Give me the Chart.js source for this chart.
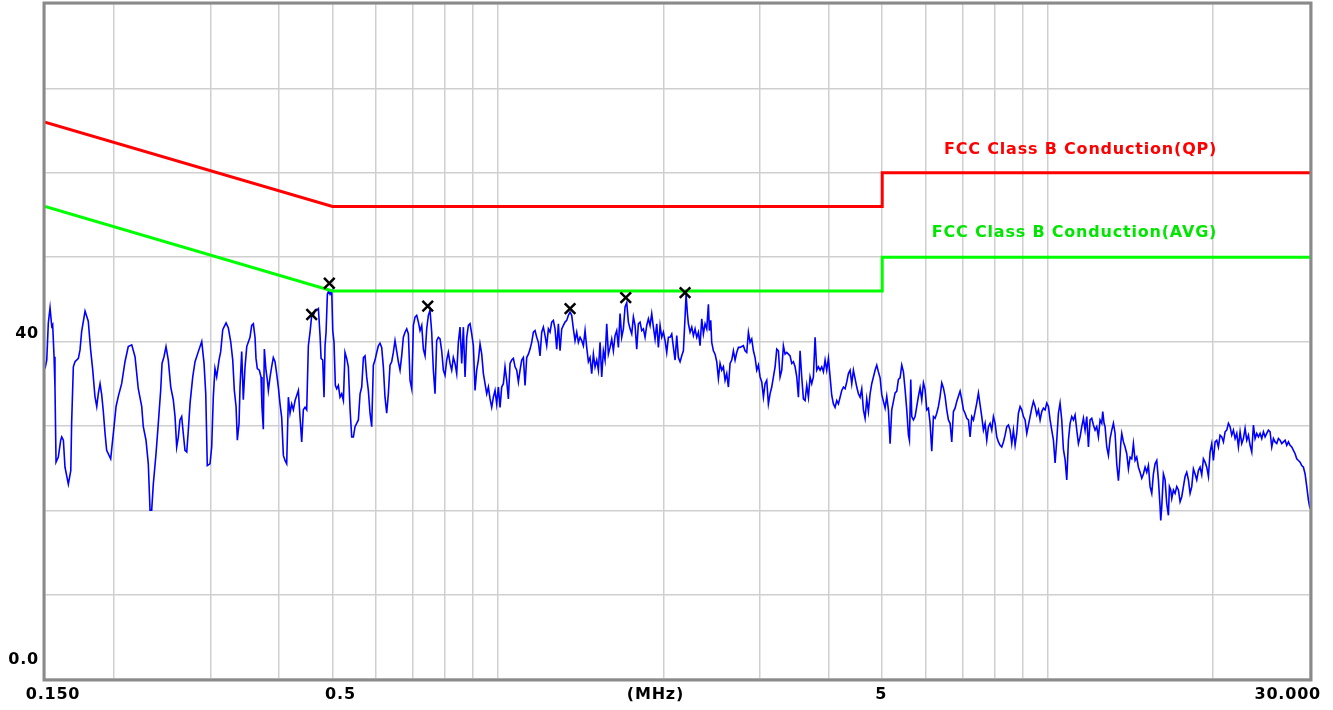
<!DOCTYPE html>
<html>
<head>
<meta charset="utf-8">
<script src="https://cdn.jsdelivr.net/npm/chart.js@4"></script>
<style>
html,body{margin:0;padding:0;background:#ffffff;}
#wrap{position:absolute;left:0;top:0;width:1333px;height:710px;}
</style>
</head>
<body>
<div id="wrap"><canvas id="c" width="1333" height="710"></canvas></div>
<script>
// ---------- data ----------
const xGridMHz = [0.15,0.2,0.3,0.4,0.5,0.6,0.7,0.8,0.9,1,2,3,4,5,6,7,8,9,10,20,30];
const yGridDb = [0,10,20,30,40,50,60,70,80];
const xTickValues = [0.15, 0.5, 2, 5, 30];
const xTickLabels = ['0.150', '0.5', '(MHz)', '5', '30.000'];
const yTickValues = [0, 40];
const yTickLabels = ['0.0', '40'];

const qpLimitFreq = [0.15, 0.5, 5, 5, 30];
const qpLimitDb   = [66, 56, 56, 60, 60];
const avgLimitFreq = [0.15, 0.5, 5, 5, 30];
const avgLimitDb   = [56, 46, 46, 50, 50];
const qpLimitName  = 'FCC Class B Conduction(QP)';
const avgLimitName = 'FCC Class B Conduction(AVG)';

const peakFreq = [0.4584, 0.4935, 0.7452, 1.3526, 1.7080, 2.1896];
const peakDb   = [43.2, 46.9, 44.2, 43.9, 45.2, 45.8];

const traceFreq = [
0.1500,0.1511,0.1521,0.1532,0.1543,0.1549,0.1558,0.1564,0.1571,0.1586,
0.1602,0.1609,0.1620,0.1631,0.1654,0.1671,0.1677,0.1689,0.1701,0.1725,
0.1737,0.1749,0.1774,0.1798,0.1816,0.1832,0.1849,0.1863,0.1875,0.1889,
0.1902,0.1915,0.1929,0.1942,0.1975,0.1997,0.2020,0.2039,0.2068,0.2097,
0.2126,0.2157,0.2187,0.2217,0.2249,0.2264,0.2290,0.2312,0.2329,0.2345,
0.2361,0.2388,0.2411,0.2435,0.2449,0.2469,0.2490,0.2514,0.2540,0.2567,
0.2586,0.2604,0.2622,0.2640,0.2659,0.2677,0.2696,0.2716,0.2734,0.2754,
0.2785,0.2812,0.2851,0.2892,0.2920,0.2941,0.2960,0.2994,0.3015,0.3036,
0.3057,0.3079,0.3109,0.3131,0.3158,0.3202,0.3233,0.3265,0.3293,0.3315,
0.3339,0.3357,0.3381,0.3395,0.3419,0.3442,0.3467,0.3492,
0.3540,0.3565,0.3590,0.3615,0.3630,0.3650,0.3681,0.3707,0.3722,0.3743,
0.3759,0.3785,0.3807,0.3823,0.3850,0.3876,0.3903,0.3931,0.3958,0.3986,
0.4014,0.4042,0.4071,0.4099,0.4128,0.4157,0.4186,0.4215,0.4245,0.4275,
0.4305,0.4335,0.4365,0.4396,0.4426,0.4458,0.4489,0.4520,0.4552,0.4584,
0.4616,0.4649,0.4681,0.4714,0.4747,0.4767,0.4800,0.4827,0.4847,0.4868,
0.4895,0.4922,0.4950,0.4985,0.5006,0.5033,0.5061,0.5090,0.5125,0.5161,
0.5197,0.5234,0.5270,0.5307,0.5344,0.5382,0.5420,0.5458,0.5496,0.5534,
0.5573,0.5613,0.5652,0.5692,0.5731,0.5771,0.5811,0.5852,0.5893,0.5934,
0.5976,0.6018,0.6060,0.6102,0.6145,0.6188,0.6231,0.6275,0.6319,0.6363,
0.6408,0.6452,0.6498,0.6543,0.6589,0.6636,0.6682,0.6729,0.6776,0.6824,
0.6872,0.6920,0.6969,0.7017,0.7066,0.7116,0.7166,0.7216,0.7267,0.7317,
0.7369,0.7420,0.7472,0.7524,0.7577,0.7630,0.7683,0.7737,0.7791,0.7846,
0.7901,0.7956,0.8012,0.8068,0.8124,0.8182,0.8239,0.8296,0.8354,0.8413,
0.8472,
0.8532,0.8592,0.8652,0.8713,0.8774,0.8835,0.8897,0.8959,0.9022,0.9085,
0.9149,0.9213,0.9278,0.9343,0.9408,0.9474,0.9540,0.9607,0.9674,0.9742,
0.9810,0.9879,0.9948,1.0018,1.0088,1.0158,1.0229,1.0301,1.0373,1.0446,
1.0520,1.0594,1.0668,1.0743,1.0818,1.0894,1.0970,1.1047,1.1124,1.1202,
1.1281,1.1360,1.1439,1.1519,1.1600,1.1681,1.1763,1.1845,1.1928,1.2012,
1.2096,1.2181,1.2266,1.2352,1.2438,1.2525,1.2613,1.2701,1.2790,1.2880,
1.2971,1.3062,1.3153,1.3245,1.3338,1.3431,1.3525,1.3620,1.3715,1.3811,
1.3909,1.4006,1.4104,1.4203,1.4302,1.4403,1.4503,1.4605,1.4707,1.4810,
1.4915,1.5019,1.5124,1.5230,1.5337,1.5444,1.5552,1.5661,1.5771,1.5881,
1.5993,1.6105,1.6217,1.6331,1.6445,1.6561,1.6677,1.6793,1.6911,1.7030,
1.7150,1.7270,1.7391,1.7512,1.7635,1.7758,1.7883,1.8008,1.8134,1.8261,
1.8390,1.8518,1.8648,1.8779,1.8910,1.9043,1.9176,1.9310,1.9446,1.9582,
1.9720,1.9858,1.9997,2.0137,2.0278,2.0420,
2.0563,2.0707,2.0853,2.0999,2.1147,2.1293,2.1443,2.1593,2.1743,2.1896,
2.1988,2.2112,2.2204,2.2361,2.2518,2.2674,2.2833,2.2994,2.3155,2.3316,
2.3479,2.3644,2.3810,2.3977,2.4144,2.4246,2.4382,2.4483,2.4655,2.4828,
2.5002,2.5177,2.5354,2.5532,2.5711,2.5891,2.6071,2.6254,2.6439,2.6624,
2.6810,2.6998,2.7187,2.7377,2.7570,2.7763,2.7956,2.8152,2.8350,2.8549,
2.8748,2.8949,2.9153,2.9357,2.9563,2.9771,2.9978,3.0188,3.0402,3.0614,
3.0826,3.1042,3.1261,3.1480,3.1702,3.1924,3.2148,3.2371,3.2599,3.2827,
3.3055,3.3287,3.3521,3.3756,3.3993,3.4232,3.4470,3.4711,3.4957,3.5201,
3.5445,3.5693,3.5945,3.6197,3.6451,3.6707,3.6963,3.7221,3.7482,3.7746,
3.8009,3.8275,3.8544,3.8814,3.9088,3.9361,3.9634,3.9913,4.0194,4.0475,
4.0756,4.1041,4.1331,4.1621,4.1913,4.2206,4.2501,4.2798,4.3100,4.3402,
4.3704,4.4011,4.4320,4.4630,4.4944,4.5259,4.5575,4.5894,4.6217,4.6540,
4.6864,4.7191,4.7524,4.7857,4.8194,4.8531,4.8869,4.9210,
4.9558,4.9906,5.0255,5.0608,5.0962,5.1319,5.1679,5.2040,5.2405,5.2772,
5.3141,5.3514,5.3891,5.4267,5.4647,5.5029,5.5415,5.5805,5.6036,5.6350,
5.6590,5.6984,5.7383,5.7786,5.8189,5.8595,5.9008,5.9425,5.9841,6.0256,
6.0677,6.1104,6.1532,6.1966,6.2400,6.2837,6.3274,6.3722,6.4166,6.4615,
6.5064,6.5522,6.5981,6.6443,6.6910,6.7377,6.7849,6.8324,6.8804,6.9282,
6.9769,7.0260,7.0752,7.1245,7.1743,7.2249,7.2753,7.3266,7.3779,7.4294,
7.4815,7.5340,7.5868,7.6400,7.6934,7.7473,7.8017,7.8564,7.9112,7.9666,
8.0226,8.0787,8.1353,8.1925,8.2498,8.3075,8.3657,8.4246,8.4835,8.5424,
8.6023,8.6628,8.7235,8.7847,8.8462,8.9081,8.9707,9.0340,9.0971,9.1605,
9.2245,9.2892,9.3543,9.4199,9.4858,9.5524,9.6192,9.6868,9.7546,9.8230,
9.8915,9.9608,10.030,10.101,10.171,10.243,10.314,10.387,10.459,10.532,
10.606,10.681,10.756,10.831,10.907,10.983,11.060,11.137,11.215,11.294,
11.373,11.453,11.533,11.614,11.695,11.777,11.860,
11.942,12.026,12.110,12.195,12.280,12.366,12.453,12.541,12.593,12.663,
12.716,12.806,12.896,12.986,13.078,13.169,13.261,13.354,13.447,13.504,
13.580,13.637,13.732,13.828,13.925,14.023,14.121,14.220,14.319,14.420,
14.520,14.622,14.725,14.828,14.931,15.036,15.141,15.247,15.354,15.462,
15.570,15.679,15.789,15.900,16.011,16.056,16.123,16.236,16.349,16.463,
16.579,16.650,16.743,16.813,16.931,17.049,17.169,17.289,17.410,17.532,
17.654,17.778,17.903,18.028,18.155,18.282,18.410,18.539,18.669,18.799,
18.930,19.063,19.197,19.331,19.468,19.604,19.740,19.879,20.018,20.158,
20.299,20.441,20.585,20.729,20.876,21.022,21.169,21.317,21.467,21.617,
21.768,21.921,22.074,22.229,22.385,22.542,22.699,22.858,23.019,23.180,
23.342,23.505,23.670,23.836,24.004,24.172,24.341,24.511,24.683,24.856,
25.030,25.205,25.382,25.560,25.739,25.919,26.101,26.283,26.467,26.653,
26.840,27.028,27.217,27.408,27.600,27.793,27.988,28.184,28.381,28.580,
28.780,28.982,29.185,29.390,29.596,29.803,30.000
];

const traceDb = [
36.8,37.8,42.2,44.0,41.8,42.0,38.2,34.6,25.7,26.3,
28.3,28.7,28.3,25.1,23.1,24.7,30.3,37.0,37.6,38.0,
39.0,41.2,43.6,42.4,39.0,36.6,33.5,32.3,33.8,35.0,
33.7,31.7,29.1,27.1,26.1,29.1,32.3,33.5,35.0,37.6,
39.4,39.6,38.2,34.4,32.3,29.9,28.3,25.5,20.0,20.0,
23.1,26.7,30.3,34.2,37.4,38.2,39.4,37.8,34.6,33.1,
31.1,27.5,28.7,30.7,31.1,29.1,27.1,26.9,29.5,32.7,
35.8,37.6,38.8,40.0,37.4,33.8,25.3,25.5,27.5,33.5,
36.8,35.8,37.8,38.8,41.4,42.2,41.6,40.0,37.8,34.2,
32.3,28.3,30.3,34.6,38.8,33.1,37.0,39.4,
40.5,41.9,42.1,40.5,38.0,36.8,36.6,35.8,32.2,29.6,
39.1,36.6,35.4,34.2,35.8,37.0,38.1,37.6,36.2,34.6,
32.6,31.0,26.5,25.9,25.5,33.4,31.5,32.6,31.9,33.0,
33.6,34.2,31.0,28.1,31.9,32.2,31.9,39.5,41.1,43.1,
43.1,43.7,43.7,43.9,40.7,38.0,37.8,33.4,39.5,41.1,
45.6,46.0,45.6,46.0,41.3,39.9,34.8,34.4,34.8,33.4,
33.8,33.0,38.7,38.0,37.0,32.0,28.7,28.7,29.9,30.3,
30.7,33.8,34.6,38.1,38.3,35.8,34.2,31.5,29.9,37.2,
37.8,38.7,39.5,39.8,39.3,37.0,33.4,31.5,33.8,37.2,
37.6,38.7,40.1,38.9,37.6,36.6,38.3,40.5,41.1,41.5,
40.9,35.4,34.4,41.9,42.9,43.1,42.3,41.3,41.9,39.1,
38.3,41.5,43.1,43.7,41.1,36.6,33.8,40.1,40.5,40.3,
38.9,36.6,36.0,37.8,38.7,37.4,36.6,38.1,37.4,36.2,
39.9,
41.7,37.4,41.7,35.8,40.5,41.9,42.1,40.9,39.5,34.2,
36.6,37.8,39.7,38.5,36.2,35.0,33.8,34.6,33.2,32.2,
33.4,34.2,32.6,34.6,32.2,34.6,35.0,37.0,35.4,33.2,
37.4,37.8,38.0,37.0,36.6,35.2,36.6,37.8,38.1,34.8,
38.1,38.5,39.1,39.9,41.1,41.3,40.5,39.9,38.3,41.1,
41.7,40.7,39.5,41.5,41.1,42.3,42.5,41.5,39.1,42.1,
38.9,41.5,41.9,42.3,42.5,43.1,43.5,43.1,41.5,40.1,
41.1,39.9,40.5,40.1,39.5,41.3,39.3,37.6,38.1,36.2,
38.5,37.0,37.8,36.6,39.9,35.8,38.9,37.8,42.1,38.5,
39.3,40.3,38.9,40.7,41.3,39.3,43.3,40.5,41.5,44.1,
44.6,42.3,41.5,40.9,42.9,41.9,39.1,42.1,42.3,41.3,
41.5,40.5,41.9,42.7,41.9,43.3,41.7,40.3,42.1,39.3,
41.9,40.5,41.1,40.1,38.7,40.5,
40.5,40.9,39.3,37.8,40.7,38.1,37.6,38.3,38.9,42.9,
45.6,43.3,42.1,41.1,41.7,40.7,41.5,40.5,41.1,39.5,
42.7,40.9,42.1,41.5,44.4,41.3,42.5,39.9,38.9,38.5,
37.6,35.6,37.4,36.6,37.0,35.4,36.2,34.6,37.4,37.8,
38.9,37.8,38.7,39.3,39.3,39.4,39.5,38.9,38.7,41.1,
39.9,40.3,38.9,38.1,36.6,37.2,35.8,35.2,33.4,35.0,
35.4,32.6,33.8,34.6,35.8,37.0,39.1,38.9,35.8,36.6,
39.5,38.5,38.7,38.5,38.3,37.4,37.6,37.0,35.8,33.4,
38.9,35.8,33.2,33.0,34.8,33.4,35.8,35.0,35.8,40.5,
36.6,37.0,36.6,37.0,36.4,37.8,36.6,38.0,35.8,33.6,
32.6,32.2,33.0,32.6,33.4,34.2,34.6,34.4,35.2,36.2,
36.6,35.0,36.6,35.6,34.6,33.8,33.4,34.4,31.9,30.9,
33.2,31.7,33.8,35.0,35.8,36.6,37.2,36.4,
35.7,33.7,32.9,32.1,33.5,31.9,27.9,31.9,32.9,33.9,
34.1,35.5,35.7,37.2,36.4,34.3,31.9,28.9,28.3,35.5,
31.1,30.7,31.1,32.3,33.5,34.5,33.1,35.1,34.3,31.9,
32.1,30.3,27.0,31.1,30.9,31.5,32.3,33.5,35.1,34.5,
33.5,31.9,30.7,30.3,28.1,31.7,32.1,32.9,33.5,34.1,
33.1,31.9,31.5,30.9,30.7,28.7,31.1,30.7,31.7,32.7,
33.9,32.5,31.1,29.5,30.3,28.3,29.9,30.3,29.5,31.1,
30.3,28.7,28.1,27.7,27.5,28.1,28.9,29.9,30.1,29.5,
27.9,29.5,27.7,29.1,31.5,32.3,31.9,31.1,30.7,29.1,
30.1,31.1,32.1,32.9,32.3,31.3,31.9,30.7,31.7,32.1,
31.9,32.7,32.3,30.7,29.5,28.3,25.6,28.3,31.5,32.7,
30.7,27.2,26.0,23.6,28.3,30.3,31.1,30.7,31.3,29.5,
27.9,28.7,29.9,30.9,29.5,31.1,27.5,
30.7,30.9,30.1,29.5,29.9,28.7,30.7,30.3,31.7,30.3,
29.9,27.5,26.5,28.5,29.5,30.3,29.1,25.5,23.5,25.1,
27.9,29.1,28.1,27.5,26.7,24.9,26.3,26.1,27.9,25.9,
26.3,25.1,24.5,23.8,24.3,25.1,24.5,25.3,22.8,22.0,
24.3,25.5,25.9,23.6,20.4,18.8,20.4,24.3,23.6,20.8,
19.4,22.8,22.4,21.4,22.4,22.0,22.8,22.4,21.0,21.6,
22.8,24.0,24.5,23.6,22.0,22.8,24.9,24.3,23.6,24.7,
25.1,24.2,26.1,25.7,25.1,24.0,26.9,27.9,25.9,28.1,
28.3,27.5,28.9,28.7,28.1,29.3,29.5,30.3,29.9,28.9,
29.5,28.5,29.1,27.5,29.3,27.9,28.5,29.7,28.3,28.9,
27.7,26.9,30.1,28.5,29.1,28.7,29.1,28.5,29.3,28.7,
29.1,29.5,29.3,27.5,28.5,28.1,27.9,28.5,28.3,27.9,
28.1,28.3,27.7,28.1,27.7,27.5,27.1,26.7,26.1,25.9,
25.7,25.3,25.1,24.3,22.8,21.2,20.2
];

// ---------- chart ----------
const pts = (fx, fy) => fx.slice(0, Math.min(fx.length, fy.length)).map((f, i) => ({x: f, y: fy[i]}));
const FONT = 'bold 16px "DejaVu Sans", sans-serif';

const decorPlugin = {
  id: 'decor',
  beforeDraw(chart) {
    const ctx = chart.ctx;
    ctx.save();
    ctx.fillStyle = '#ffffff';
    ctx.fillRect(0, 0, chart.width, chart.height);
    ctx.restore();
  },
  afterDraw(chart) {
    const ctx = chart.ctx;
    const a = chart.chartArea;
    const xs = chart.scales.x, ys = chart.scales.y;
    ctx.save();
    // frame
    ctx.strokeStyle = '#8a8a8a';
    ctx.lineWidth = 3;
    ctx.strokeRect(a.left - 1, a.top - 1, a.right - a.left + 2, a.bottom - a.top + 2);
    // text
    ctx.font = FONT;
    try { ctx.letterSpacing = '0.8px'; } catch (e) {}
    ctx.textBaseline = 'middle';
    ctx.fillStyle = '#000000';
    // y labels
    ctx.textAlign = 'right';
    yTickValues.forEach((v, i) => {
      let y = ys.getPixelForValue(v) - 8;
      y = Math.min(y, a.bottom - 19);
      ctx.fillText(yTickLabels[i], 39, y);
    });
    // x labels
    const xDx = [8, 8, -8, -1, 0];
    xTickValues.forEach((v, i) => {
      const px = xs.getPixelForValue(v);
      if (i === xTickValues.length - 1) {
        ctx.textAlign = 'right';
        ctx.fillText(xTickLabels[i], px + 11, a.bottom + 16);
      } else {
        ctx.textAlign = 'center';
        ctx.fillText(xTickLabels[i], px + xDx[i], a.bottom + 16);
      }
    });
    // limit names
    ctx.textAlign = 'right';
    ctx.fillStyle = '#ff0000';
    ctx.fillText(qpLimitName, xs.getPixelForValue(20) + 4, ys.getPixelForValue(qpLimitDb[qpLimitDb.length - 1]) - 23);
    ctx.fillStyle = '#00e600';
    ctx.fillText(avgLimitName, xs.getPixelForValue(20) + 4, ys.getPixelForValue(avgLimitDb[avgLimitDb.length - 1]) - 24);
    ctx.restore();
  }
};

new Chart(document.getElementById('c'), {
  type: 'line',
  data: {
    datasets: [
      { label: 'Peaks', data: pts(peakFreq, peakDb), showLine: false, pointStyle: 'crossRot',
        pointRadius: 7.5, pointBorderWidth: 2.5, borderColor: '#000000', backgroundColor: '#000000', order: 0 },
      { label: qpLimitName, data: pts(qpLimitFreq, qpLimitDb), borderColor: '#ff0000', borderWidth: 3,
        pointRadius: 0, tension: 0, order: 1 },
      { label: avgLimitName, data: pts(avgLimitFreq, avgLimitDb), borderColor: '#00ff00', borderWidth: 3,
        pointRadius: 0, tension: 0, order: 1 },
      { label: 'Trace', data: pts(traceFreq, traceDb), borderColor: '#0000ff', borderWidth: 1.6,
        pointRadius: 0, tension: 0, order: 2 }
    ]
  },
  options: {
    responsive: false,
    animation: false,
    devicePixelRatio: 1,
    events: [],
    layout: { autoPadding: false, padding: { left: 45, right: 23, top: 4, bottom: 31 } },
    plugins: { legend: { display: false }, tooltip: { enabled: false } },
    scales: {
      x: {
        type: 'logarithmic', min: 0.15, max: 30,
        afterBuildTicks: s => { s.ticks = xGridMHz.map(v => ({ value: v })); },
        afterFit: s => { s.height = 0; },
        ticks: { display: false },
        grid: { color: '#cfcfcf', lineWidth: 1.5, drawTicks: false },
        border: { display: false }
      },
      y: {
        type: 'linear', min: 0, max: 80,
        afterBuildTicks: s => { s.ticks = yGridDb.map(v => ({ value: v })); },
        afterFit: s => { s.width = 0; },
        ticks: { display: false },
        grid: { color: '#cfcfcf', lineWidth: 1.5, drawTicks: false },
        border: { display: false }
      }
    }
  },
  plugins: [decorPlugin]
});
</script>
</body>
</html>
